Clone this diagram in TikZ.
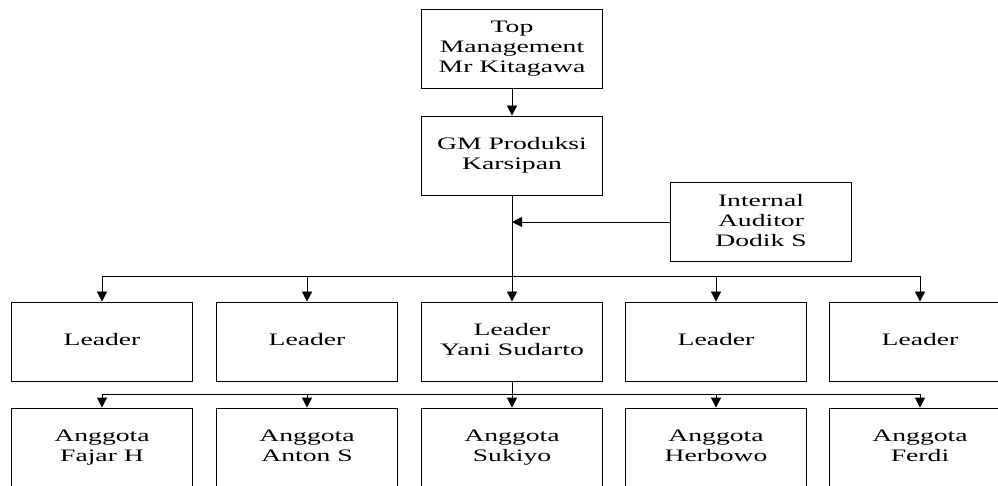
\documentclass[tikz,border=0pt]{standalone}
\usepackage{fontspec}
\setmainfont{Liberation Serif}[FakeStretch=1.58]
\usetikzlibrary{arrows.meta, positioning}

\newcommand{\unitstrut}{\rule[-4pt]{0pt}{15.6pt}}
\tikzset{
  unit/.style={draw, line width=0.8pt, minimum width=181pt, minimum height=79pt,
    inner sep=0pt, align=center, font=\fontsize{17.5}{20}\selectfont,
    execute at begin node={\unitstrut}, execute at end node={\unitstrut}},
  link/.style={line width=0.8pt},
  arr/.style={link, -{Triangle[width=10pt,length=10pt]}}
}

\begin{document}
\begin{tikzpicture}[x=1pt, y=1pt]
\useasboundingbox (0,0) rectangle (998,485);
% top of the chart
\node[unit] (top) at (512,436.5) {Top\\Management\\Mr Kitagawa};
\node[unit] (gm) at (512,329.5) {GM Produksi\\Karsipan};
\node[unit] (aud) at (761,263) {Internal\\Auditor\\Dodik S};
% leaders
\node[unit] (ld1) at (102,143.5) {Leader};
\node[unit] (ld2) at (307,143.5) {Leader};
\node[unit] (ld3) at (512,143.5) {Leader\\Yani Sudarto};
\node[unit] (ld4) at (716,143.5) {Leader};
\node[unit] (ld5) at (920,143.5) {Leader};
% members
\node[unit] (ag1) at (102,37.5) {Anggota\\Fajar H};
\node[unit] (ag2) at (307,37.5) {Anggota\\Anton S};
\node[unit] (ag3) at (512,37.5) {Anggota\\Sukiyo};
\node[unit] (ag4) at (716,37.5) {Anggota\\Herbowo};
\node[unit] (ag5) at (920,37.5) {Anggota\\Ferdi};
\coordinate (bar1) at (512,209);
\coordinate (bar2) at (512,91);

\draw[arr] (top) -- (gm);
\draw[arr] (gm) -- (ld3);
\draw[arr] (aud.west) -- (aud.west -| gm.south);
\draw[link] (bar1 -| ld1) -- (bar1 -| ld5);
\draw[arr] (bar1 -| ld1) -- (ld1);
\draw[arr] (bar1 -| ld2) -- (ld2);
\draw[arr] (bar1 -| ld4) -- (ld4);
\draw[arr] (bar1 -| ld5) -- (ld5);
\draw[link] (ld3) -- (bar2);
\draw[link] (bar2 -| ag1) -- (bar2 -| ag5);
\draw[arr] (bar2 -| ag1) -- (ag1);
\draw[arr] (bar2 -| ag2) -- (ag2);
\draw[arr] (bar2) -- (ag3);
\draw[arr] (bar2 -| ag4) -- (ag4);
\draw[arr] (bar2 -| ag5) -- (ag5);
\end{tikzpicture}
\end{document}
